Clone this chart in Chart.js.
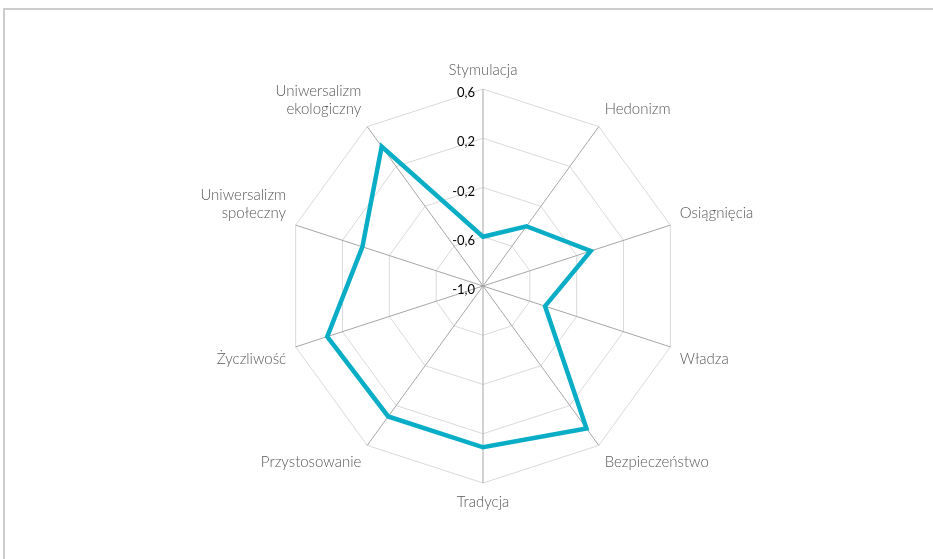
<!DOCTYPE html>
<html lang="pl">
<head>
    <meta charset="UTF-8">
    <title>Wartości</title>
    <script src="https://cdn.jsdelivr.net/npm/chart.js"></script>
    <style>
        body { margin: 0; background: #fff; overflow: hidden; }
        .frame {
            position: absolute;
            left: 3px; top: 8px;
            width: 1000px; height: 600px;
            border-top: 2px solid #cdcdcd;
            border-left: 2px solid #cdcdcd;
        }
        #chart { position: absolute; left: 0; top: 0; }
    </style>
</head>
<body>
    <div class="frame"></div>
    <canvas id="chart" width="933" height="559"></canvas>

    <script>
        const categories = [
            'Stymulacja',
            'Hedonizm',
            'Osiągnięcia',
            'Władza',
            'Bezpieczeństwo',
            'Tradycja',
            'Przystosowanie',
            'Życzliwość',
            ['Uniwersalizm', 'społeczny'],
            ['Uniwersalizm', 'ekologiczny']
        ];
        const values = [-0.60, -0.40, -0.08, -0.47, 0.43, 0.31, 0.31, 0.33, 0.03, 0.40];
        const tickValues = [-1.0, -0.6, -0.2, 0.2, 0.6];
        const tickLabels = ['-1,0', '-0,6', '-0,2', '0,2', '0,6'];

        // tick labels sit left of the vertical spoke, right-aligned
        const tickLabelPlugin = {
            id: 'tickLabels',
            afterDatasetsDraw(chart) {
                const scale = chart.scales.r;
                const ctx = chart.ctx;
                ctx.save();
                ctx.font = '13px Lato';
                ctx.fillStyle = '#000';
                ctx.textAlign = 'right';
                ctx.textBaseline = 'middle';
                tickValues.forEach((v, i) => {
                    const d = scale.getDistanceFromCenterForValue(v);
                    ctx.fillText(tickLabels[i], scale.xCenter - 8, scale.yCenter - d + 4);
                });
                ctx.restore();
            }
        };

        new Chart('chart', {
            type: 'radar',
            data: {
                labels: categories,
                datasets: [{
                    data: values,
                    borderColor: '#0aadc6',
                    borderWidth: 4.5,
                    borderJoinStyle: 'miter',
                    pointRadius: 0,
                    pointHoverRadius: 0,
                    fill: false,
                    tension: 0
                }]
            },
            options: {
                responsive: false,
                animation: false,
                layout: {
                    padding: { top: 61, bottom: 48, left: 33, right: 0 }
                },
                plugins: {
                    legend: { display: false },
                    tooltip: { enabled: false }
                },
                scales: {
                    r: {
                        min: -1,
                        max: 0.6,
                        afterBuildTicks: scale => {
                            scale.ticks = tickValues.map(v => ({ value: v }));
                        },
                        ticks: { display: false },
                        grid: { color: '#d9d9d9', lineWidth: 1, circular: false },
                        angleLines: { color: '#a6a6a6', lineWidth: 1 },
                        pointLabels: {
                            color: '#595959',
                            padding: 10,
                            font: { family: 'Lato', size: 15, weight: 300 }
                        }
                    }
                }
            },
            plugins: [tickLabelPlugin]
        });
    </script>
</body>
</html>
